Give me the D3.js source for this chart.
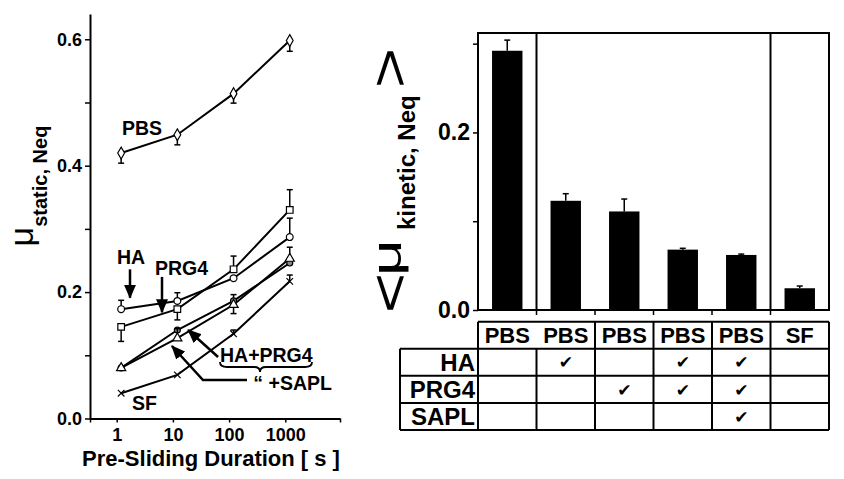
<!DOCTYPE html>
<html><head><meta charset="utf-8">
<script src="https://cdn.jsdelivr.net/npm/d3@7"></script>
<style>
body{margin:0;background:#fff}
svg text{font-family:"Liberation Sans",Arial,sans-serif;font-weight:bold;fill:#000}
</style>
</head><body>
<svg id="c" width="844" height="479"></svg>
<script>
// ---------- data: left panel (static friction vs pre-sliding duration) ----------
const durations = [1.2, 12, 120, 1200];
const xTickLabels = [1, 10, 100, 1000];
const yLeftTicks = [0, 0.1, 0.2, 0.3, 0.4, 0.5, 0.6];
const yLeftLabeled = [0, 0.2, 0.4, 0.6];

const pbsVals   = [0.420, 0.449, 0.514, 0.598];
const pbsLo     = [0.016, 0.016, 0.015, 0.017];
const pbsHi     = [0, 0, 0, 0];
const haVals    = [0.173, 0.186, 0.222, 0.287];
const haLo      = [0, 0, 0, 0];
const haHi      = [0.014, 0.013, 0, 0.030];
const prg4Vals  = [0.145, 0.173, 0.236, 0.330];
const prg4Lo    = [0.023, 0.017, 0, 0];
const prg4Hi    = [0, 0, 0.021, 0.032];
const haPrgVals = [0.080, 0.140, 0.186, 0.246];
const haPrgLo   = [0, 0, 0, 0];
const haPrgHi   = [0, 0, 0.010, 0];
const saplVals  = [0.080, 0.127, 0.180, 0.253];
const saplLo    = [0, 0, 0.014, 0];
const saplHi    = [0, 0.015, 0, 0.018];
const sfVals    = [0.040, 0.069, 0.134, 0.217];
const sfLo      = [0, 0, 0, 0];
const sfHi      = [0, 0, 0.006, 0.010];

// ---------- data: right panel (kinetic friction bars + composition table) ----------
const lubricants = ["PBS", "PBS", "PBS", "PBS", "PBS", "SF"];
const kineticVals = [0.292, 0.123, 0.111, 0.068, 0.062, 0.0245];
const kineticErr  = [0.012, 0.008, 0.014, 0.0015, 0.001, 0.0025];
const rowNames = ["HA", "PRG4", "SAPL"];
const hasHA   = [0, 1, 0, 1, 1, 0];
const hasPRG4 = [0, 0, 1, 1, 1, 0];
const hasSAPL = [0, 0, 0, 0, 1, 0];
const yRightTicks = [0, 0.1, 0.2, 0.3];
const yRightLabeled = [0, 0.2];

const svg = d3.select("#c");
const FONT = "'Liberation Sans', Arial, sans-serif";

// arrow marker
svg.append("defs").append("marker")
  .attr("id", "arr").attr("markerUnits", "userSpaceOnUse")
  .attr("markerWidth", 14).attr("markerHeight", 12)
  .attr("refX", 13).attr("refY", 6).attr("orient", "auto")
  .append("path").attr("d", "M0,0L14,6L0,12Z").attr("fill", "#000");

// ================= LEFT PANEL =================
const xL = d3.scaleLog().domain([0.335, 9400]).range([90, 340]);
const yL = d3.scaleLinear().domain([0, 0.64]).range([418.5, 14]);

const gyL = svg.append("g").attr("transform", "translate(90,0)")
  .call(d3.axisLeft(yL).tickValues(yLeftTicks).tickSize(5).tickSizeOuter(0).tickPadding(3)
    .tickFormat(d => yLeftLabeled.some(v => Math.abs(v - d) < 1e-9) ? d3.format(".1f")(d) : ""));
const gxL = svg.append("g").attr("transform", "translate(0,418.5)")
  .call(d3.axisBottom(xL).tickValues([xL.domain()[0], ...xTickLabels, xL.domain()[1]])
    .tickSize(4).tickSizeOuter(0).tickPadding(6)
    .tickFormat(d => xTickLabels.includes(d) ? d : ""));
[gyL, gxL].forEach(g => {
  g.select(".domain").attr("stroke-width", 2);
  g.selectAll(".tick line").attr("stroke-width", 1.5);
  g.selectAll("text").style("font", "bold 18px " + FONT);
});

svg.append("text").attr("x", 211).attr("y", 466).attr("text-anchor", "middle")
  .style("font-size", "22px").text("Pre-Sliding Duration [ s ]");

// left y label
const ylab = svg.append("text").attr("transform", "translate(33,186) rotate(-90)")
  .attr("text-anchor", "middle");
ylab.append("tspan").style("font-size", "34px").style("font-weight", "normal").text("μ");
ylab.append("tspan").attr("dy", 14).style("font-size", "20px").text("static, Neq");

const series = [
  {vals: pbsVals,   lo: pbsLo,   hi: pbsHi,   sym: d3.symbolDiamond,  size: 40, fill: "#fff"},
  {vals: haVals,    lo: haLo,    hi: haHi,    sym: d3.symbolCircle,   size: 36, fill: "#fff"},
  {vals: prg4Vals,  lo: prg4Lo,  hi: prg4Hi,  sym: d3.symbolSquare,   size: 44, fill: "#fff"},
  {vals: haPrgVals, lo: haPrgLo, hi: haPrgHi, sym: d3.symbolCircle,   size: 28, fill: "#888"},
  {vals: saplVals,  lo: saplLo,  hi: saplHi,  sym: d3.symbolTriangle, size: 36, fill: "#fff"},
  {vals: sfVals,    lo: sfLo,    hi: sfHi,    sym: d3.symbolTimes || d3.symbolCross, size: 30, fill: "none"}
];
const line = d3.line().x(d => xL(d[0])).y(d => yL(d[1]));
series.forEach(s => {
  const pts = durations.map((t, i) => [t, s.vals[i]]);
  svg.append("path").attr("d", line(pts)).attr("fill", "none")
    .attr("stroke", "#000").attr("stroke-width", 2);
});
series.forEach(s => {
  durations.forEach((t, i) => {
    const cx = xL(t), v = s.vals[i];
    [[s.lo[i], -1], [s.hi[i], 1]].forEach(([e, sgn]) => {
      if (e <= 0) return;
      const y2 = yL(v + sgn * e);
      svg.append("line").attr("x1", cx).attr("x2", cx).attr("y1", yL(v)).attr("y2", y2)
        .attr("stroke", "#000").attr("stroke-width", 1.5);
      svg.append("line").attr("x1", cx - 3).attr("x2", cx + 3).attr("y1", y2).attr("y2", y2)
        .attr("stroke", "#000").attr("stroke-width", 1.5);
    });
    svg.append("path").attr("transform", `translate(${cx},${yL(v)})`)
      .attr("d", d3.symbol().type(s.sym).size(s.size)())
      .attr("fill", s.fill).attr("stroke", "#000").attr("stroke-width", 1.2);
  });
});

// annotations (placed in data coordinates)
function ann(txt, xv, yv, anchor) {
  svg.append("text").attr("x", xL(xv)).attr("y", yL(yv)).attr("dy", "0.35em")
    .attr("text-anchor", anchor || "start").style("font-size", "19.5px").text(txt);
}
function arrow(ptsData) {
  svg.append("path").attr("d", d3.line()(ptsData.map(p => [xL(p[0]), yL(p[1])])))
    .attr("fill", "none").attr("stroke", "#000").attr("stroke-width", 2.5)
    .attr("marker-end", "url(#arr)");
}
ann("PBS", 1.24, 0.46);
ann("HA", 1.01, 0.2555);
arrow([[1.725, 0.236], [1.725, 0.191]]);
ann("PRG4", 4.8, 0.238);
arrow([[6.4, 0.224], [6.4, 0.168]]);
ann("HA+PRG4", 68.8, 0.1005);
arrow([[63.7, 0.0973], [18.6, 0.140]]);
ann("“ +SAPL", 270, 0.0562);
arrow([[208, 0.0609], [34.3, 0.0609], [9.6, 0.1147]]);
ann("SF", 1.87, 0.0245);
// brace under HA+PRG4
(function () {
  const x1 = xL(68.8), x2 = xL(2985), xm = xL(355), y = yL(0.0815);
  const p = `M${x1},${y - 5} Q${x1},${y} ${x1 + 7},${y} L${xm - 6},${y} Q${xm},${y} ${xm},${y + 5}` +
            ` Q${xm},${y} ${xm + 6},${y} L${x2 - 7},${y} Q${x2},${y} ${x2},${y - 5}`;
  svg.append("path").attr("d", p).attr("fill", "none").attr("stroke", "#000").attr("stroke-width", 1.8);
})();

// ================= RIGHT PANEL =================
const xR = d3.scaleBand().domain(d3.range(lubricants.length)).range([478, 829]);
const yR = d3.scaleLinear().domain([0, 0.312]).range([310, 33]);
const bw = xR.bandwidth();

svg.selectAll(".bar").data(kineticVals).enter().append("rect")
  .attr("x", (d, i) => xR(i) + bw * 0.24).attr("width", bw * 0.52)
  .attr("y", d => yR(d)).attr("height", d => yR(0) - yR(d)).attr("fill", "#000");
kineticVals.forEach((v, i) => {
  const cx = xR(i) + bw / 2, y2 = yR(v + kineticErr[i]);
  svg.append("line").attr("x1", cx).attr("x2", cx).attr("y1", yR(v)).attr("y2", y2)
    .attr("stroke", "#000").attr("stroke-width", 1.5);
  svg.append("line").attr("x1", cx - 3).attr("x2", cx + 3).attr("y1", y2).attr("y2", y2)
    .attr("stroke", "#000").attr("stroke-width", 1.5);
});
// frame
svg.append("rect").attr("x", 478).attr("y", yR.range()[1]).attr("width", 829 - 478)
  .attr("height", yR(0) - yR.range()[1]).attr("fill", "none").attr("stroke", "#000").attr("stroke-width", 2);
[1, 5].forEach(i => svg.append("line").attr("x1", xR(i)).attr("x2", xR(i))
  .attr("y1", yR.range()[1]).attr("y2", yR(0)).attr("stroke", "#000").attr("stroke-width", 2));
d3.range(1, lubricants.length).forEach(i => svg.append("line").attr("x1", xR(i)).attr("x2", xR(i))
  .attr("y1", yR(0)).attr("y2", yR(0) + 5).attr("stroke", "#000").attr("stroke-width", 1.5));
const gyR = svg.append("g").attr("transform", "translate(478,0)")
  .call(d3.axisLeft(yR).tickValues(yRightTicks).tickSize(5).tickSizeOuter(0).tickPadding(3)
    .tickFormat(d => yRightLabeled.some(v => Math.abs(v - d) < 1e-9) ? d3.format(".1f")(d) : ""));
gyR.select(".domain").remove();
gyR.selectAll(".tick line").attr("stroke-width", 1.5);
gyR.selectAll("text").style("font", "bold 23px " + FONT);

// right y label: <μ kinetic, Neq> (brackets and μ drawn wide, as in the original)
const g2 = svg.append("g").attr("transform", "translate(405,184) rotate(-90)");
function glyph(txt, x, y, size, sx) {
  g2.append("text").attr("transform", `translate(${x},${y}) scale(${sx},1)`)
    .style("font-size", size + "px").style("font-weight", "normal").text(txt);
}
glyph("<", -129, 3, 54, 1.27);
glyph("μ", -92, -4, 40, 1.6);
g2.append("text").attr("x", -46).attr("y", 10).style("font-size", "24px").text("kinetic, Neq");
glyph(">", 96, 3, 54, 1.27);

// table
const rowsAll = ["hdr", ...rowNames];
const yT = d3.scaleBand().domain(rowsAll).range([321.7, 430]);
const tbl = svg.append("g").attr("stroke", "#000").attr("stroke-width", 2);
const L = 400, R = 829, X0 = 478;
tbl.append("line").attr("x1", X0).attr("x2", R).attr("y1", yT("hdr")).attr("y2", yT("hdr"));
rowNames.forEach(r => tbl.append("line").attr("x1", L).attr("x2", R).attr("y1", yT(r)).attr("y2", yT(r)));
tbl.append("line").attr("x1", L).attr("x2", R).attr("y1", 430).attr("y2", 430);
tbl.append("line").attr("x1", L).attr("x2", L).attr("y1", yT("HA")).attr("y2", 430);
tbl.append("line").attr("x1", X0).attr("x2", X0).attr("y1", yT("hdr")).attr("y2", 430);
tbl.append("line").attr("x1", R).attr("x2", R).attr("y1", yT("hdr")).attr("y2", 430);
d3.range(1, lubricants.length).forEach(i => tbl.append("line").attr("x1", xR(i)).attr("x2", xR(i))
  .attr("y1", i === 1 ? yT("HA") : yT("hdr")).attr("y2", 430));
lubricants.forEach((l, i) => svg.append("text").attr("x", xR(i) + bw / 2)
  .attr("y", yT("hdr") + yT.bandwidth() / 2).attr("dy", "0.36em").attr("text-anchor", "middle")
  .style("font-size", "22px").text(l));
rowNames.forEach(r => svg.append("text").attr("x", X0 - 3).attr("y", yT(r) + yT.bandwidth() / 2)
  .attr("dy", "0.36em").attr("text-anchor", "end").style("font-size", "24px").text(r));
const flags = {HA: hasHA, PRG4: hasPRG4, SAPL: hasSAPL};
rowNames.forEach(r => flags[r].forEach((f, i) => {
  if (!f) return;
  svg.append("text").attr("x", xR(i) + bw / 2).attr("y", yT(r) + yT.bandwidth() / 2)
    .attr("dy", "0.36em").attr("text-anchor", "middle")
    .style("font-family", "'DejaVu Sans'").style("font-size", "17px").style("font-weight", "normal")
    .text("✔");
}));
</script>
</body></html>
